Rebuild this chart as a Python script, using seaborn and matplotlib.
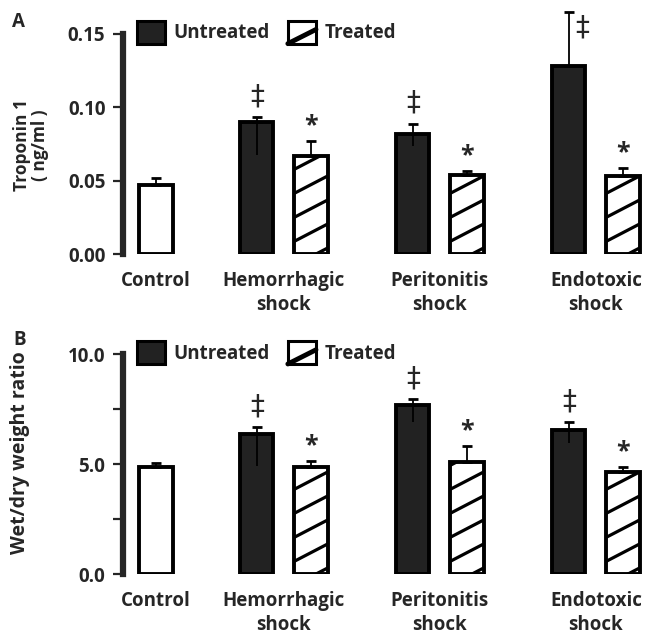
import numpy as np
import pandas as pd
import matplotlib
matplotlib.use("Agg")
import matplotlib.pyplot as plt
import seaborn as sns
from matplotlib.lines import Line2D
from matplotlib.patches import Patch, Rectangle
from matplotlib.legend_handler import HandlerBase

# data
groups = ["Control", "Hemorrhagic\nshock", "Peritonitis\nshock", "Endotoxic\nshock"]
bar_group = [0, 1, 1, 2, 2, 3, 3]
conditions = ["Control", "Untreated", "Treated", "Untreated", "Treated", "Untreated", "Treated"]

# panel A - troponin (ng/ml)
trop_mean = [0.047, 0.0897, 0.067, 0.0815, 0.0539, 0.128, 0.0534]
trop_err_up = [0.0047, 0.0037, 0.0099, 0.0074, 0.0028, 0.0368, 0.0053]
trop_err_lo = [0.0, 0.0224, 0.0, 0.0078, 0.0, 0.0, 0.0]
trop_ticks = [0.0, 0.05, 0.10, 0.15]
trop_ticklabels = ["0.00", "0.05", "0.10", "0.15"]

# panel B - wet/dry weight ratio
wd_mean = [4.85, 6.37, 4.85, 7.67, 5.10, 6.56, 4.65]
wd_err_up = [0.22, 0.31, 0.31, 0.30, 0.73, 0.34, 0.22]
wd_err_lo = [0.0, 1.45, 0.0, 0.74, 0.0, 0.58, 0.0]
wd_ticks = [0.0, 5.0, 10.0]
wd_ticklabels = ["0.0", "5.0", "10.0"]
wd_minor = [2.5, 7.5]

marks = ["", "\u2021", "*", "\u2021", "*", "\u2021", "*"]

# layout
group_centers = np.array([0, 0.82, 1.82, 2.82])
offsets = {"Control": 0.0, "Untreated": -0.174, "Treated": 0.174}
bar_w = 0.212
colors = {"Control": "white", "Untreated": "#222222", "Treated": "white"}

sns.set_style("white")
plt.rcParams["font.family"] = ["Open Sans", "DejaVu Sans"]
plt.rcParams["font.weight"] = "bold"


class HandlerSlash(HandlerBase):
    def create_artists(self, legend, orig_handle, xdescent, ydescent, width, height, fontsize, trans):
        r = Rectangle((-xdescent, -ydescent), width, height, facecolor="white",
                      edgecolor="black", linewidth=2.2, transform=trans)
        ln = Line2D([-xdescent, -xdescent + width], [-ydescent, -ydescent + height * 0.62],
                    color="black", linewidth=3.5, transform=trans)
        return [r, ln]


def hatch_bar(ax, patch):
    # sparse diagonal stripes, clipped to the bar
    x0, y0 = patch.get_x(), patch.get_y()
    x1, y1 = x0 + patch.get_width(), y0 + patch.get_height()
    (px0, py0), (px1, py1) = ax.transData.transform([(x0, y0), (x1, y1)])
    inv = ax.transData.inverted()
    rise = 0.52 * (px1 - px0)
    yy = py0 - rise + 6
    while yy < py1:
        pts = inv.transform([(px0, yy), (px1, yy + rise)])
        ln = Line2D(pts[:, 0], pts[:, 1], color="black", lw=2.3, solid_capstyle="butt", zorder=1.5)
        ax.add_line(ln)
        ln.set_clip_path(patch)
        yy += 24


def draw_panel(ax, mean, err_up, err_lo, ylim, ticks, ticklabels, minor=None):
    xpos = [group_centers[g] + offsets[c] for g, c in zip(bar_group, conditions)]
    df = pd.DataFrame({"x": xpos, "value": mean, "cond": conditions})
    sns.barplot(data=df, x="x", y="value", hue="cond", native_scale=True, palette=colors,
                edgecolor="black", linewidth=2.8, saturation=1, errorbar=None,
                legend=False, ax=ax)
    for p in ax.patches:
        c = p.get_x() + p.get_width() / 2
        p.set_x(c - bar_w / 2)
        p.set_width(bar_w)

    ax.set_xlim(-0.2083, 3.18)
    ax.set_ylim(*ylim)

    zeros = np.zeros(len(mean))
    ax.errorbar(xpos, mean, yerr=[zeros, err_up], fmt="none", ecolor="black",
                elinewidth=1.3, capsize=3.3, capthick=2, clip_on=False, zorder=3)
    ax.errorbar(xpos, mean, yerr=[err_lo, zeros], fmt="none", ecolor="black",
                elinewidth=1.3, capsize=0, zorder=3)

    for p in ax.patches:
        c = p.get_x() + p.get_width() / 2
        i = int(np.argmin([abs(c - x) for x in xpos]))
        if conditions[i] == "Treated":
            hatch_bar(ax, p)

    for x, m, e, s in zip(xpos, mean, err_up, marks):
        if not s:
            continue
        top = m + e
        if s == "*":
            ax.annotate(s, (x, top), xytext=(0, 2), textcoords="offset points",
                        ha="center", va="bottom", fontsize=18, fontweight="bold")
        elif top > ylim[1]:
            ax.annotate(s, (x, ylim[1]), xytext=(10, 5), textcoords="offset points",
                        ha="center", va="center", fontsize=20, fontweight="normal",
                        family="DejaVu Sans", annotation_clip=False)
        else:
            ax.annotate(s, (x, top), xytext=(0, 15), textcoords="offset points",
                        ha="center", va="center", fontsize=20, fontweight="normal",
                        family="DejaVu Sans")

    ax.set_xticks(group_centers, groups)
    for lbl in ax.get_xticklabels():
        lbl.set_multialignment("center")
        lbl.set_linespacing(1.3)
    ax.set_yticks(ticks, ticklabels)
    if minor:
        ax.set_yticks(minor, minor=True)
    ax.tick_params(axis="x", length=0, pad=12, labelsize=13.5)
    ax.tick_params(axis="y", which="both", direction="out", length=7, width=1.6,
                   pad=6, labelsize=13.5, left=True)
    for side in ["top", "right", "bottom"]:
        ax.spines[side].set_visible(False)
    ax.spines["left"].set_linewidth(4.5)
    ax.spines["left"].set_bounds(ylim[0], ylim[1])
    ax.set_xlabel("")

    handles = [Patch(facecolor="#222222", edgecolor="black", linewidth=2.2),
               Patch(facecolor="white", edgecolor="black")]
    ax.legend(handles, ["Untreated", "Treated"], handler_map={handles[1]: HandlerSlash()},
              loc="upper left", bbox_to_anchor=(0.026, 1.06), ncol=2, frameon=False,
              fontsize=13.5, handlelength=1.5, handleheight=1.5, handletextpad=0.45,
              columnspacing=0.95, borderpad=0, borderaxespad=0)


fig = plt.figure(figsize=(6.52, 6.41), dpi=100)
ax_a = fig.add_axes([0.1894, 0.6037, 0.8106, 0.3433])
ax_b = fig.add_axes([0.1894, 0.1045, 0.8106, 0.3428])

draw_panel(ax_a, trop_mean, trop_err_up, trop_err_lo, (0, 0.15), trop_ticks, trop_ticklabels)
draw_panel(ax_b, wd_mean, wd_err_up, wd_err_lo, (0, 10), wd_ticks, wd_ticklabels, wd_minor)

ax_a.set_ylabel("Troponin 1\n( ng/ml )", fontsize=12.5, fontweight="bold", linespacing=1.05)
ax_a.yaxis.set_label_coords(-0.140, 0.495)
ax_b.set_ylabel("Wet/dry weight ratio", fontsize=14, fontweight="bold")
ax_b.yaxis.set_label_coords(-0.177, 0.551)

fig.text(12 / 652, 1 - 22 / 641, "A", fontsize=13.5, fontweight="bold", va="center")
fig.text(13 / 652, 1 - 340 / 641, "B", fontsize=13.5, fontweight="bold", va="center")

fig.savefig("out.png", dpi=100)
